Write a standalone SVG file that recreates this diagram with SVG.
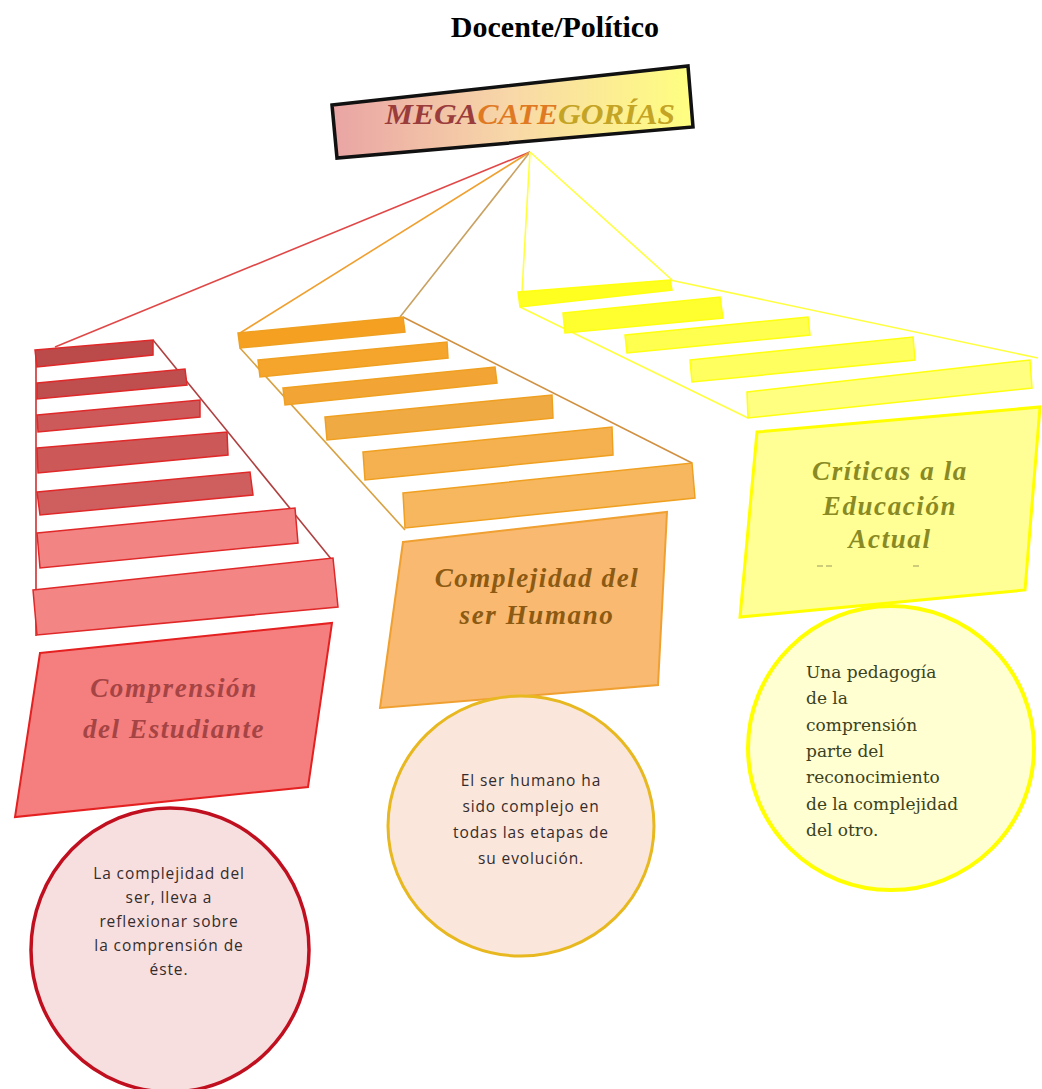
<svg xmlns="http://www.w3.org/2000/svg" width="1042" height="1089" viewBox="0 0 1042 1089">
  <defs>
    <linearGradient id="megaFill" x1="0" y1="0" x2="1" y2="0">
      <stop offset="0" stop-color="#e9a4a4"/>
      <stop offset="0.5" stop-color="#f8d8a8"/>
      <stop offset="1" stop-color="#ffff80"/>
    </linearGradient>
    <style>
      .title { font-family: "Liberation Serif", "Times New Roman", serif; font-weight: bold; font-size: 30px; fill: #000; }
      .mega { font-family: "Liberation Serif", "Times New Roman", serif; font-weight: bold; font-style: italic; font-size: 30px; }
      .cat { font-family: "Liberation Serif", "Times New Roman", serif; font-weight: bold; font-style: italic; font-size: 27px; letter-spacing: 1.6px; text-anchor: middle; }
      .note { font-family: "Open Sans", "Liberation Sans", sans-serif; font-size: 15.5px; letter-spacing: 0.9px; fill: #342c2c; text-anchor: middle; }
      .note-serif { font-family: "DejaVu Serif", "Liberation Serif", serif; font-size: 17px; fill: #3c4220; }
      .link { fill: none; stroke-width: 1.6; }
      .r-bar { stroke: #e02828; stroke-width: 1.5; }
      .o-bar { stroke: #f0a020; stroke-width: 1.5; }
      .y-bar { stroke: #ffff10; stroke-width: 1.5; }
    </style>
  </defs>

  <rect width="1042" height="1089" fill="#ffffff"/>

  <!-- heading -->
  <text class="title" x="555" y="37" text-anchor="middle">Docente/Político</text>

  <!-- connectors: spokes from the hub and the frames of each staircase -->
  <g id="connectors">
    <line class="link" x1="530" y1="152" x2="55" y2="347" stroke="#e04848"/>
    <line class="link" x1="530" y1="152" x2="240" y2="333" stroke="#f0a030"/>
    <line class="link" x1="530" y1="152" x2="400" y2="317" stroke="#c8a060"/>
    <line class="link" x1="530" y1="152" x2="522" y2="292" stroke="#ffff40" stroke-width="2.2"/>
    <line class="link" x1="530" y1="152" x2="672" y2="280" stroke="#ffff40" stroke-width="2.2"/>
    <!-- red frame -->
    <line class="link" x1="36" y1="350" x2="36" y2="636" stroke="#d03030" stroke-width="1.4"/>
    <line class="link" x1="153" y1="340" x2="332" y2="560" stroke="#b04040" stroke-width="1.4"/>
    <!-- orange frame -->
    <line class="link" x1="240" y1="348" x2="405" y2="530" stroke="#d8a040" stroke-width="1.4"/>
    <line class="link" x1="403" y1="317" x2="692" y2="463" stroke="#d09040" stroke-width="1.4"/>
    <!-- yellow frame -->
    <line class="link" x1="520" y1="307" x2="748" y2="418" stroke="#ffff40" stroke-width="2"/>
    <line class="link" x1="670" y1="280" x2="1038" y2="358" stroke="#ffff40" stroke-width="2"/>
  </g>

  <!-- central node -->
  <g id="node-megacategorias">
    <polygon points="332,105 688,66 693,127 337,158" fill="url(#megaFill)" stroke="#111" stroke-width="3.5"/>
    <text class="mega" x="385" y="124" textLength="290" lengthAdjust="spacingAndGlyphs"><tspan fill="#9a3c3c">MEGA</tspan><tspan fill="#e07a22">CATE</tspan><tspan fill="#c4a424">GORÍAS</tspan></text>
  </g>

  <!-- staircase 1 -->
  <g id="node-comprension">
    <polygon class="r-bar" points="35,350 153,340 153,355 37,367" fill="#bb4a4a"/>
    <polygon class="r-bar" points="37,383 185,369 187,385 37,399" fill="#bf4e4e"/>
    <polygon class="r-bar" points="37,415 200,400 200,417 38,432" fill="#cc5a5a"/>
    <polygon class="r-bar" points="37,448 227,432 228,455 38,473" fill="#cc5858"/>
    <polygon class="r-bar" points="37,492 250,472 253,495 40,515" fill="#cf5e5e"/>
    <polygon class="r-bar" points="37,533 295,508 298,543 40,568" fill="#f28484"/>
    <polygon class="r-bar" points="33,590 333,558 338,607 37,635" fill="#f48585"/>
    <polygon points="40,653 332,623 308,787 15,817" fill="#f57e7e" stroke="#e42020" stroke-width="2"/>
    <text class="cat" fill="#a54444"><tspan x="174" y="697">Comprensión</tspan><tspan x="174" y="738">del Estudiante</tspan></text>
  </g>

  <!-- staircase 2 -->
  <g id="node-complejidad">
    <polygon class="o-bar" points="238,333 403,317 405,332 240,348" fill="#f5a020"/>
    <polygon class="o-bar" points="258,360 447,342 448,358 260,377" fill="#f5a42c"/>
    <polygon class="o-bar" points="283,388 495,367 497,383 285,405" fill="#f2a434"/>
    <polygon class="o-bar" points="325,417 552,395 553,418 327,440" fill="#f0aa44"/>
    <polygon class="o-bar" points="363,452 612,427 613,455 365,480" fill="#f5b150"/>
    <polygon class="o-bar" points="403,493 692,463 695,498 405,528" fill="#f6b75e"/>
    <polygon points="403,542 667,512 658,685 380,708" fill="#f9b970" stroke="#f0a030" stroke-width="2"/>
    <text class="cat" fill="#8c5a12"><tspan x="537" y="587">Complejidad del</tspan><tspan x="537" y="624">ser Humano</tspan></text>
  </g>

  <!-- staircase 3 -->
  <g id="node-criticas">
    <polygon class="y-bar" points="518,292 670,280 672,290 520,307" fill="#ffff20"/>
    <polygon class="y-bar" points="563,313 720,297 723,318 565,333" fill="#ffff30"/>
    <polygon class="y-bar" points="625,335 808,317 810,335 627,353" fill="#ffff50"/>
    <polygon class="y-bar" points="690,360 913,337 915,360 692,382" fill="#ffff60"/>
    <polygon class="y-bar" points="747,392 1030,360 1032,388 748,418" fill="#ffff80"/>
    <polygon points="757,432 1040,407 1025,590 740,617" fill="#ffff96" stroke="#ffff00" stroke-width="3"/>
    <text class="cat" fill="#8a8a24"><tspan x="890" y="480">Críticas a la</tspan><tspan x="890" y="515">Educación</tspan><tspan x="890" y="548">Actual</tspan></text>
    <path d="M817,566 h6 M826,566 h6 M913,566 h6" stroke="#9a9a60" stroke-width="1.2"/>
  </g>

  <!-- note circles -->
  <g id="note-comprension">
    <ellipse cx="170" cy="950" rx="139" ry="142" fill="#f8dfdf" stroke="#c01020" stroke-width="3.5"/>
    <text class="note"><tspan x="169" y="879">La complejidad del</tspan><tspan x="169" y="903">ser, lleva a</tspan><tspan x="169" y="927">reflexionar sobre</tspan><tspan x="169" y="951">la comprensión de</tspan><tspan x="169" y="975">éste.</tspan></text>
  </g>

  <g id="note-complejidad">
    <ellipse cx="521" cy="826" rx="133" ry="130" fill="#fbe6dc" stroke="#e8b820" stroke-width="3"/>
    <text class="note"><tspan x="531" y="786">El ser humano ha</tspan><tspan x="531" y="812">sido complejo en</tspan><tspan x="531" y="838">todas las etapas de</tspan><tspan x="531" y="864">su evolución.</tspan></text>
  </g>

  <g id="note-criticas">
    <ellipse cx="891" cy="748" rx="143" ry="142" fill="#ffffd2" stroke="#ffff00" stroke-width="4"/>
    <text class="note-serif"><tspan x="806" y="678">Una pedagogía</tspan><tspan x="806" y="704">de la</tspan><tspan x="806" y="731">comprensión</tspan><tspan x="806" y="757">parte del</tspan><tspan x="806" y="783">reconocimiento</tspan><tspan x="806" y="810">de la complejidad</tspan><tspan x="806" y="836">del otro.</tspan></text>
  </g>
</svg>
